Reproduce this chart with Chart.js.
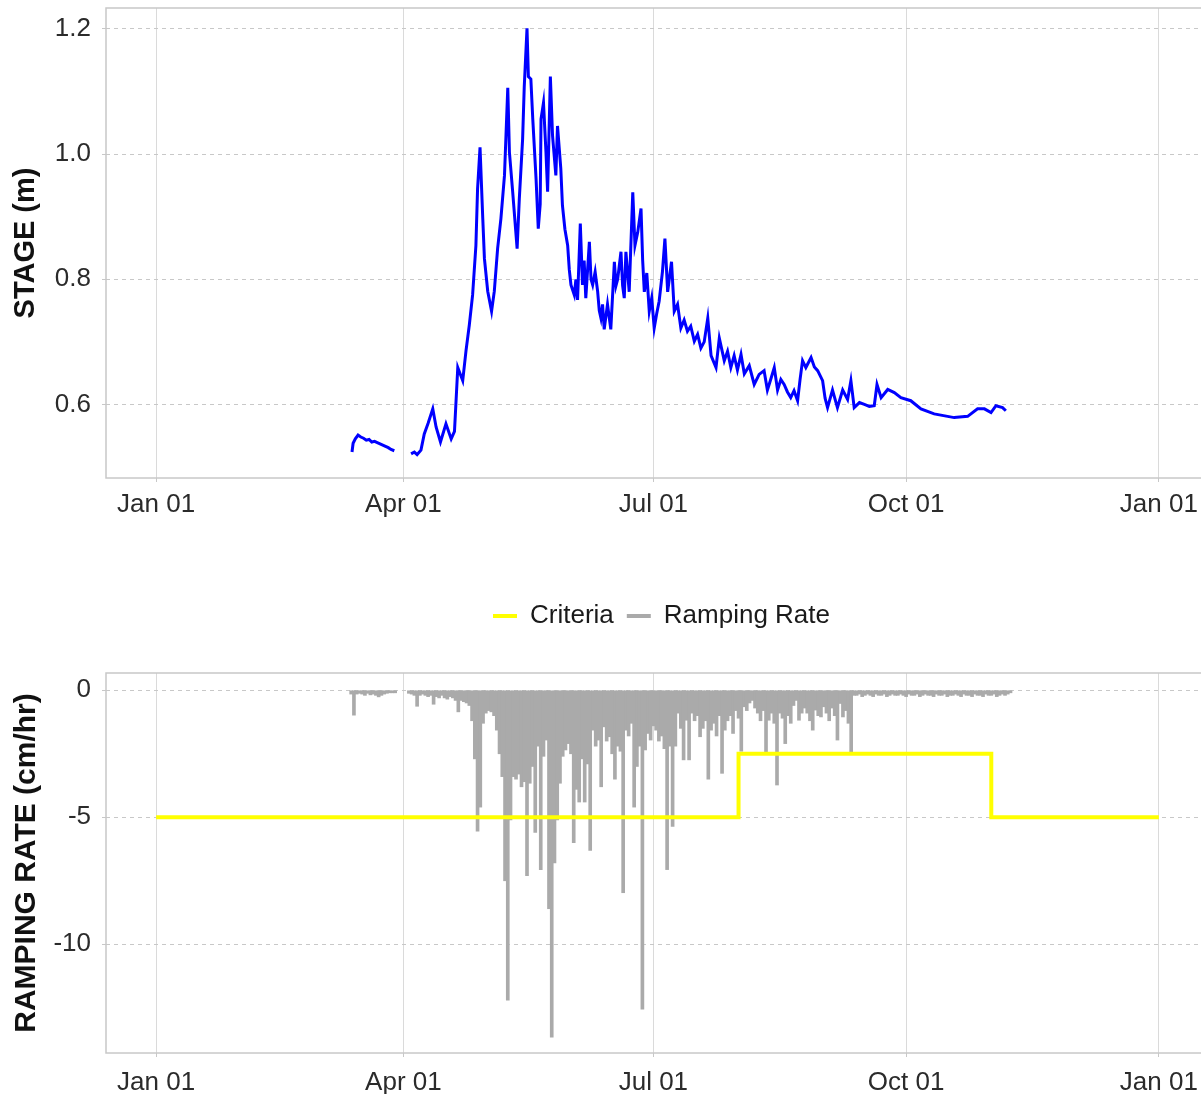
<!DOCTYPE html>
<html>
<head>
<meta charset="utf-8">
<script src="https://cdn.jsdelivr.net/npm/chart.js@4.4.1/dist/chart.umd.min.js"></script>
<style>
  html, body { margin: 0; padding: 0; background: #fff; overflow: hidden; }
  #stage { position: absolute; left: 0; top: 0; }
  #ramp { position: absolute; left: 0; top: 540px; }
</style>
</head>
<body>
<canvas id="stage" width="1209" height="540"></canvas>
<canvas id="ramp" width="1209" height="554"></canvas>
<script>
// x axis is day of year (0 = Jan 01)
const tickDays = [0, 90, 181, 273, 365];
const tickLabels = ['Jan 01', 'Apr 01', 'Jul 01', 'Oct 01', 'Jan 01'];

// stage (m), null = gap in record
const stageDays = [71.3, 71.7, 72.5, 73.5, 74.5, 75.5, 76.5, 77.5, 78.5, 79.5, 80.5, 81.5, 82.5, 83.5, 84.5, 85.5, 86.7,
  89,
  92.8, 94, 95, 96.4, 97.6, 99, 100.7, 101.9, 103.5, 105.5, 107.4, 108.6, 109.8, 111.6, 112.8, 114, 115.2, 116.4, 117, 117.9,
  118.9, 119.5, 120.7, 122.1, 123.1, 124.3, 125.5, 126.8, 128, 128.6, 129.8, 131.4, 132.2, 133.4, 134, 135, 135.5, 136.4,
  137.1, 138.3, 139.1, 139.8, 140.1, 141, 141.9, 142.5, 143.5, 144.3, 145.5, 146.1, 147.3, 147.9, 148.8, 149.8, 150.4, 151,
  152.2, 152.8, 153.4, 154.4, 155.2, 155.8, 156.4, 157.7, 158.3, 158.9, 159.8, 160.7, 161.3, 161.9, 162.5, 163.1, 164.3,
  165.5, 166.8, 167.4, 168, 169.2, 169.8, 170.4, 171, 172.2, 173.5, 174.3, 175.3, 176.5, 177.1, 177.7, 178.6, 179.5, 180.4,
  181.3, 182.2, 183.1, 184.3, 185.2, 186.2, 187.6, 188.6, 189.8, 191, 192.2, 193.4, 194.6, 195.9, 197.1, 198.3, 199.5, 200.8,
  202, 203.8, 205, 206.8, 208, 209.2, 210.4, 211.6, 212.9, 214.1, 215.9, 217.7, 219.5, 221.3, 222.5, 223.7, 225, 226.2,
  227.4, 228.6, 229.8, 231, 232.2, 233.5, 234.4, 235.3, 236.5, 238.4, 239.6, 240.8, 242.6, 243.5, 244.4, 246.2, 248, 249.9,
  251.7, 252.9, 254.1, 256, 257.8, 259.6, 261.4, 262.4, 263.9, 266.3, 268.7, 271.1, 274.7, 278.4,
  283.2, 290.5, 295.4, 299, 301.5, 303.9, 305.7, 308.1, 309.3];
const stageValues = [0.524, 0.538, 0.545, 0.551, 0.548, 0.546, 0.543, 0.544, 0.540, 0.541, 0.539, 0.537, 0.535, 0.533, 0.531, 0.528, 0.526,
  null,
  0.521, 0.524, 0.520, 0.527, 0.553, 0.570, 0.593, 0.564, 0.540, 0.569, 0.545, 0.557, 0.659, 0.638, 0.686, 0.727, 0.775, 0.854, 0.944, 1.011,
  0.897, 0.833, 0.781, 0.749, 0.781, 0.849, 0.897, 0.966, 1.106, 1.003, 0.939, 0.849, 0.929, 1.024, 1.108, 1.201, 1.124, 1.120,
  1.056, 0.960, 0.881, 0.920, 1.056, 1.082, 1.003, 0.940, 1.124, 1.029, 0.966, 1.045, 0.977, 0.918, 0.880, 0.854, 0.815, 0.791,
  0.775, 0.800, 0.767, 0.889, 0.791, 0.830, 0.770, 0.860, 0.800, 0.791, 0.812, 0.781, 0.750, 0.738, 0.760, 0.720, 0.760,
  0.720, 0.828, 0.790, 0.800, 0.844, 0.790, 0.770, 0.844, 0.780, 0.939, 0.854, 0.875, 0.913, 0.830, 0.780, 0.810, 0.749, 0.770,
  0.722, 0.745, 0.765, 0.812, 0.865, 0.780, 0.828, 0.749, 0.760, 0.722, 0.735, 0.717, 0.725, 0.701, 0.712, 0.690, 0.700, 0.738,
  0.678, 0.659, 0.706, 0.670, 0.685, 0.659, 0.678, 0.655, 0.680, 0.649, 0.662, 0.632, 0.648, 0.654, 0.623, 0.640, 0.659, 0.623,
  0.640, 0.632, 0.620, 0.611, 0.622, 0.606, 0.640, 0.670, 0.659, 0.675, 0.660, 0.654, 0.638, 0.610, 0.595, 0.623, 0.595, 0.623,
  0.608, 0.638, 0.595, 0.603, 0.600, 0.597, 0.598, 0.632, 0.611, 0.624, 0.619, 0.611, 0.606, 0.593,
  0.585, 0.579, 0.581, 0.593, 0.593, 0.587, 0.598, 0.595, 0.590];

// ramping rate (cm/hr), one value per day from rampStartDay, null = no data
const rampStartDay = 71;
const rampValues = [
  -0.15, -0.98, -0.15, -0.12, -0.15, -0.2, -0.12, -0.18, -0.15, -0.2, -0.26, -0.2, -0.15, -0.12, -0.1, -0.1, -0.1,
  null, null, null, null,
  -0.12, -0.15, -0.2, -0.63, -0.2, -0.15, -0.2, -0.25, -0.2, -0.55, -0.25, -0.3, -0.2, -0.3, -0.35, -0.25, -0.3, -0.4,
  -0.85, -0.4, -0.45, -0.5, -0.6, -1.2, -2.7, -5.55, -4.6, -1.3, -0.9, -0.8, -0.85, -1.0, -1.57, -2.5, -3.4, -7.5, -12.2,
  -5.1, -3.4, -3.5, -3.3, -3.8, -3.6, -7.3, -3.66, -3.0, -5.6, -2.2, -7.06, -2.6, -1.96, -8.6, -13.66, -6.8, -5.1, -3.66,
  -2.6, -2.35, -2.1, -2.5, -6.0, -3.9, -4.4, -2.7, -4.4, -2.9, -6.3, -1.57, -2.2, -1.96, -3.8, -1.44, -2.0, -1.83, -2.5,
  -3.5, -2.2, -2.4, -7.97, -1.57, -1.8, -1.3, -4.6, -3.0, -2.2, -12.55, -2.35, -1.7, -1.96, -1.4, -1.57, -2.0, -1.8, -2.3,
  -7.06, -2.2, -5.36, -2.2, -0.9, -1.5, -2.74, -1.18, -2.74, -0.9, -1.2, -1.0, -1.83, -1.5, -1.2, -3.5, -1.57, -1.3, -1.8,
  -1.0, -3.27, -1.57, -1.2, -1.0, -1.7, -0.8, -1.1, -2.4, -0.65, -0.8, -0.5, -0.4, -0.7, -0.9, -1.2, -0.8, -2.42, -1.18,
  -0.9, -1.3, -3.73, -0.9, -1.1, -2.1, -1.0, -1.3, -0.6, -0.4, -1.18, -0.9, -0.7, -0.9, -1.2, -1.57, -0.78, -1.0, -1.05,
  -0.65, -0.9, -1.2, -0.7, -1.0, -1.96, -0.52, -1.05, -0.8, -1.3, -2.42, -0.2,
  -0.2, -0.15, -0.25, -0.2, -0.15, -0.2, -0.25, -0.15, -0.2, -0.2, -0.15, -0.25, -0.2, -0.15, -0.2, -0.2, -0.15, -0.2,
  -0.25, -0.15, -0.2, -0.2, -0.15, -0.25, -0.2, -0.15, -0.2, -0.2, -0.25, -0.15, -0.2, -0.2, -0.15, -0.25, -0.2, -0.2,
  -0.15, -0.2, -0.25, -0.15, -0.2, -0.2, -0.25, -0.15, -0.2, -0.2, -0.25, -0.15, -0.2, -0.2, -0.15, -0.25, -0.2, -0.15,
  -0.2, -0.15, -0.1];

// criteria (cm/hr), stepped
const critDays = [0, 212, 304, 365];
const critValues = [-5, -2.5, -5, -5];

const stageTicks = [0.6, 0.8, 1.0, 1.2];
const rampTicks = [-10, -5, 0];

Chart.defaults.font.family = "'Liberation Sans', Arial, sans-serif";
Chart.defaults.color = '#2b2b2b';
Chart.defaults.animation = false;

const frame = {
  id: 'frame',
  afterDatasetsDraw(chart) {
    const a = chart.chartArea, c = chart.ctx;
    c.save();
    c.strokeStyle = '#c8c8c8';
    c.lineWidth = 1.5;
    c.strokeRect(a.left, a.top, a.right - a.left + 10, a.bottom - a.top);
    c.restore();
  }
};

function xScale(h, pad) {
  return {
    type: 'linear', min: -18.25, max: 383.25, offset: false,
    afterBuildTicks: s => { s.ticks = tickDays.map(v => ({ value: v })); },
    afterFit: s => { s.height = h; s.paddingLeft = 0; s.paddingRight = 0; },
    ticks: { font: { size: 26 }, padding: pad, maxRotation: 0, autoSkip: false,
      callback: (v) => tickLabels[tickDays.indexOf(v)] },
    grid: { color: '#dadada', lineWidth: 1, tickLength: 4, tickColor: '#c8c8c8', offset: false },
    border: { display: false }
  };
}

function yScale(min, max, ticks, title, titleSize, fmt) {
  return {
    min: min, max: max,
    afterBuildTicks: s => { s.ticks = ticks.map(v => ({ value: v })); },
    afterFit: s => { s.width = 106; s.paddingTop = 0; s.paddingBottom = 0; },
    ticks: { font: { size: 26 }, padding: 11, callback: fmt },
    grid: { color: '#c8c8c8', lineWidth: 1, tickLength: 4, tickColor: '#c8c8c8' },
    border: { display: false, dash: [4, 4] },
    title: { display: true, text: title, font: { size: titleSize, weight: 'bold' }, color: '#111',
      padding: { top: 9, bottom: 0 } }
  };
}

new Chart(document.getElementById('stage'), {
  type: 'line',
  data: {
    datasets: [{
      label: 'STAGE',
      data: stageDays.map((d, i) => ({ x: d, y: stageValues[i] })),
      borderColor: '#0000ff',
      borderWidth: 3,
      pointRadius: 0,
      spanGaps: false,
      tension: 0
    }]
  },
  options: {
    responsive: false,
    layout: { padding: { top: 8, left: 0, right: 0, bottom: 0 } },
    plugins: { legend: { display: false }, tooltip: { enabled: false } },
    scales: {
      x: xScale(62, 7),
      y: yScale(0.4825, 1.2335, stageTicks, 'STAGE (m)', 29, v => v.toFixed(1))
    }
  },
  plugins: [frame]
});

// extra room under the legend, and centre it over the plot like the original
const legendGap = {
  id: 'legendGap',
  beforeInit(chart) {
    const fit = chart.legend.fit;
    chart.legend.fit = function () { fit.bind(chart.legend)(); this.height += 34; };
  },
  afterLayout(chart) {
    chart.legend.left += 114;
  }
};

new Chart(document.getElementById('ramp'), {
  type: 'bar',
  data: {
    datasets: [{
      type: 'line',
      label: 'Criteria',
      data: critDays.map((d, i) => ({ x: d, y: critValues[i] })),
      borderColor: '#ffff00',
      backgroundColor: '#ffff00',
      borderWidth: 4,
      pointRadius: 0,
      stepped: 'before',
      borderJoinStyle: 'miter',
      order: 0
    }, {
      type: 'bar',
      label: 'Ramping Rate',
      data: rampValues.map((v, i) => ({ x: rampStartDay + i, y: v })),
      backgroundColor: '#aaaaaa',
      borderWidth: 0,
      barThickness: 3,
      grouped: false,
      order: 1
    }]
  },
  options: {
    responsive: false,
    layout: { padding: { top: 50, left: 0, right: 0, bottom: 0 } },
    plugins: {
      tooltip: { enabled: false },
      legend: {
        position: 'top',
        labels: {
          font: { size: 26 }, color: '#1a1a1a', boxWidth: 24, boxHeight: 4, padding: 13,
          generateLabels: chart => Chart.defaults.plugins.legend.labels.generateLabels(chart).map(l => {
            const ds = chart.data.datasets[l.datasetIndex];
            l.fillStyle = ds.type === 'line' ? ds.borderColor : ds.backgroundColor;
            l.strokeStyle = l.fillStyle;
            l.lineWidth = 0;
            return l;
          })
        }
      }
    },
    scales: {
      x: xScale(41, 10),
      y: yScale(-14.28, 0.68, rampTicks, 'RAMPING RATE (cm/hr)', 30, v => String(v))
    }
  },
  plugins: [legendGap, frame]
});
</script>
</body>
</html>
